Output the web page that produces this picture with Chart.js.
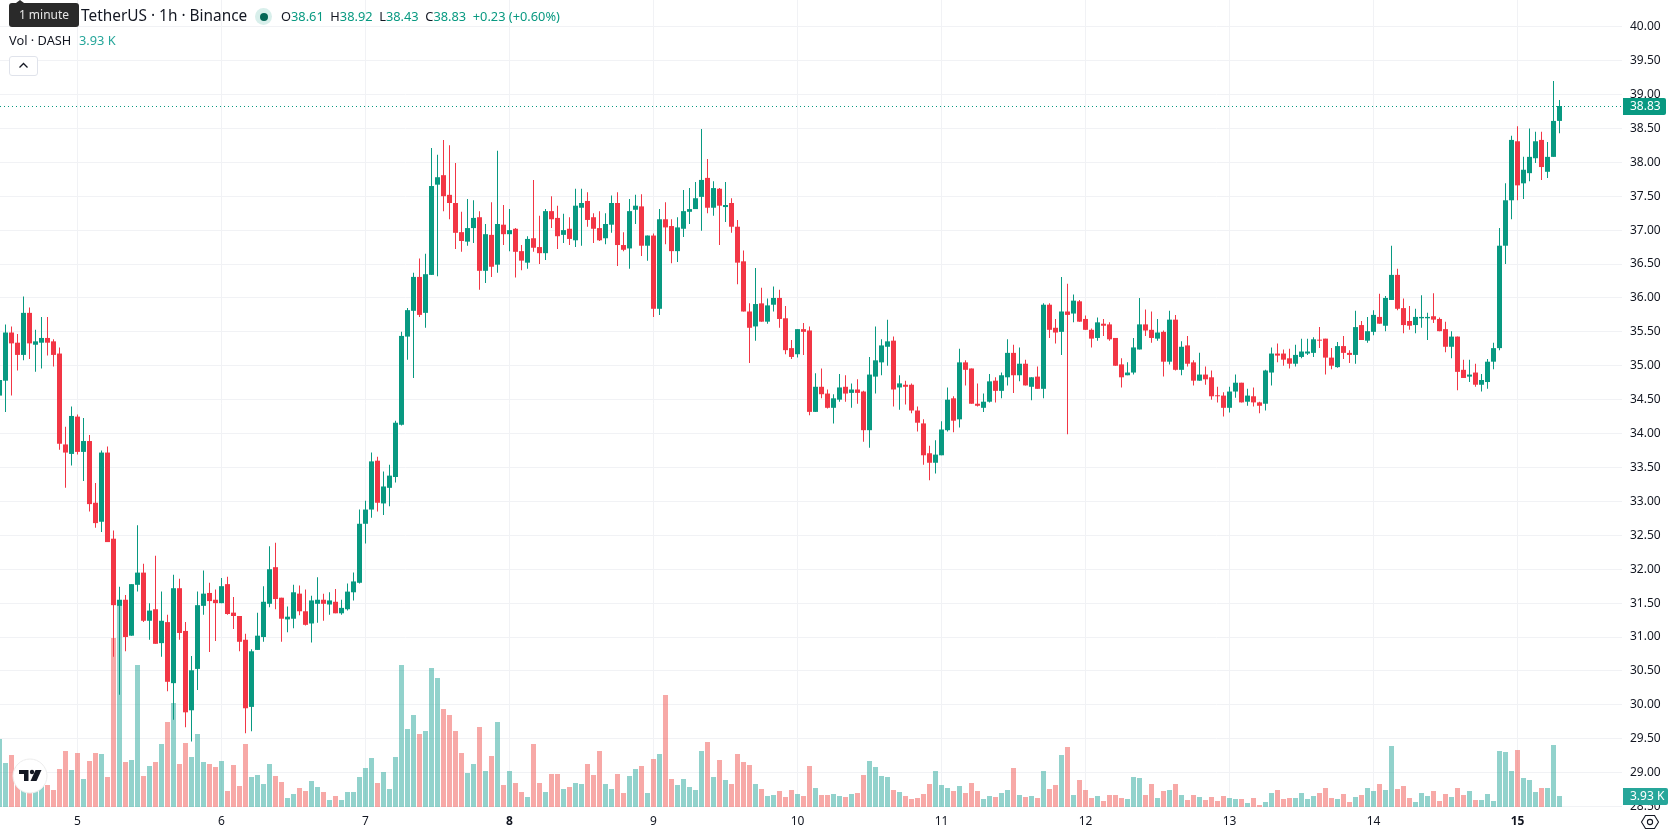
<!DOCTYPE html>
<html>
<head>
<meta charset="utf-8">
<title>DASH / TetherUS 1h</title>
<script src="https://cdn.jsdelivr.net/npm/chart.js@4/dist/chart.umd.min.js"></script>
<style>
  html, body { margin: 0; padding: 0; background: #fff; overflow: hidden; }
  #wrap { position: relative; width: 1678px; height: 835px; font-family: "Noto Sans", sans-serif; color: #131722; }
  #wrap canvas { position: absolute; left: 0; top: 0; }
  .txt { position: absolute; white-space: pre; line-height: 18px; }
  .up { color: #089981; }
  #tip { position: absolute; left: 9px; top: 3px; width: 70px; height: 24px; background: #2a2a2a; border-radius: 3px; color: #e6e6e6; font-size: 12px; line-height: 24px; text-align: center; }
  #tip:before { content: ""; position: absolute; left: 7px; top: -3px; border: 4px solid transparent; border-top: 0; border-bottom: 3px solid #2a2a2a; }
  #dot { position: absolute; left: 255px; top: 8px; width: 17px; height: 17px; border-radius: 50%; background: #d8efeb; }
  #dot:after { content: ""; position: absolute; left: 4.5px; top: 4.5px; width: 8px; height: 8px; border-radius: 50%; background: #056656; }
  #fold { position: absolute; left: 9px; top: 56px; width: 27px; height: 18px; border: 1px solid #e0e3eb; border-radius: 3px; background: #fff; }
  #logo { position: absolute; left: 12px; top: 758px; }
  #gear { position: absolute; left: 1640px; top: 812px; }
</style>
</head>
<body>
<div id="wrap">
  <canvas id="myChart" width="1678" height="835"></canvas>
  <div class="txt" style="left:81px;top:7px;font-size:15.4px">TetherUS · 1h · Binance</div>
  <div id="tip">1 minute</div>
  <div id="dot"></div>
  <div class="txt" style="left:281px;top:7px;font-size:12.8px">O<span class="up">38.61</span>  H<span class="up">38.92</span>  L<span class="up">38.43</span>  C<span class="up">38.83</span>  <span class="up">+0.23 (+0.60%)</span></div>
  <div class="txt" style="left:9px;top:31px;font-size:12.8px">Vol · DASH</div>
  <div class="txt" style="left:79px;top:31px;font-size:12.8px;color:#26a69a">3.93 K</div>
  <div id="fold"><svg width="27" height="18"><path d="M9.5 10.5 L13.5 6.5 L17.5 10.5" fill="none" stroke="#131722" stroke-width="1.3"/></svg></div>
  <svg id="logo" width="36" height="36">
    <circle cx="18" cy="18" r="17" fill="#fff" stroke="#ececec" stroke-width="1"/>
    <path d="M7 12 H16.5 V23 H12 V16 H7 Z" fill="#131722"/>
    <circle cx="20" cy="14" r="2.2" fill="#131722"/>
    <path d="M23.5 12 H29.5 L24.5 23 H18.5 Z" fill="#131722"/>
  </svg>
  <svg id="gear" width="20" height="20">
    <path d="M5.5 3.5 H14.5 L18.5 10 L14.5 16.5 H5.5 L1.5 10 Z" fill="none" stroke="#131722" stroke-width="1.1"/>
    <circle cx="10" cy="10" r="2.6" fill="none" stroke="#131722" stroke-width="1.1"/>
  </svg>
</div>
<script>
// hourly candles, one entry per hour from the left edge of the pane
const opens = [34.56,
  34.78,35.49,35.34,35.16,35.78,35.31,35.34,35.41,35.36,35.18,
  33.84,33.70,34.25,33.73,33.89,32.98,32.70,33.72,32.45,31.46,
  31.55,31.02,31.77,31.95,31.24,31.41,30.91,31.22,30.32,31.72,
  31.09,29.92,30.53,31.46,31.65,31.55,31.50,31.78,31.36,31.31,
  30.96,29.97,30.81,31.00,31.49,32.03,31.58,31.26,31.27,31.64,
  31.38,31.20,31.49,31.55,31.48,31.52,31.35,31.41,31.66,31.80,
  32.67,32.88,33.60,32.97,33.20,33.36,34.13,35.43,35.81,36.31,
  35.78,36.34,37.67,37.81,37.52,37.40,36.97,36.83,37.03,37.19,
  36.40,36.93,36.49,37.08,36.94,37.02,36.69,36.52,36.88,36.75,
  36.66,37.28,37.18,36.93,37.02,36.85,37.33,37.43,37.19,37.03,
  36.88,37.08,37.40,36.78,36.73,37.30,37.35,36.77,36.92,35.84,
  37.16,37.06,36.69,37.02,37.27,37.31,37.49,37.77,37.33,37.61,
  37.34,37.40,37.05,36.54,35.80,35.58,35.92,35.65,35.90,36.00,
  35.70,35.26,35.17,35.54,35.52,34.32,34.69,34.59,34.38,34.50,
  34.69,34.60,34.65,34.62,34.05,34.84,35.05,35.28,35.37,34.68,
  34.72,34.72,34.34,34.15,33.71,33.57,33.68,34.05,34.52,34.21,
  35.05,34.96,34.44,34.38,34.47,34.78,34.63,34.83,35.19,34.86,
  35.03,34.69,34.84,34.66,35.90,35.56,35.50,35.80,35.77,35.95,
  35.69,35.53,35.41,35.62,35.61,35.41,35.02,34.86,34.90,35.24,
  35.61,35.53,35.40,35.50,35.06,35.68,34.94,35.30,35.05,34.78,
  34.87,34.83,34.56,34.56,34.38,34.62,34.75,34.47,34.55,34.46,
  34.44,34.90,35.18,35.18,35.11,35.03,35.13,35.18,35.19,35.38,
  35.40,35.12,34.98,35.29,35.19,35.16,35.60,35.37,35.50,35.72,
  35.59,35.97,36.34,35.85,35.66,35.60,35.70,35.70,35.73,35.69,
  35.54,35.28,35.43,34.94,34.84,34.90,34.72,34.76,35.06,35.26,
  36.77,37.44,38.31,37.69,37.84,38.06,38.33,37.86,38.08,38.61];

const closes = [34.79,
  35.49,35.33,35.16,35.78,35.33,35.36,35.41,35.34,35.16,33.85,
  33.72,34.26,33.73,33.89,32.96,32.68,33.72,32.40,31.47,31.55,
  31.00,31.78,31.95,31.24,31.39,30.90,31.24,30.34,31.72,31.06,
  29.89,30.51,31.47,31.64,31.53,31.50,31.75,31.34,31.31,30.93,
  29.95,30.79,31.02,31.52,32.00,31.56,31.27,31.30,31.66,31.38,
  31.18,31.54,31.55,31.49,31.54,31.35,31.43,31.67,31.82,32.67,
  32.88,33.59,32.98,33.22,33.38,34.16,35.44,35.82,36.31,35.75,
  36.35,37.65,37.78,37.50,37.40,36.96,36.84,37.03,37.18,36.40,
  36.94,36.46,37.09,36.94,37.00,36.68,36.55,36.87,36.74,36.66,
  37.28,37.16,36.91,37.00,36.87,37.36,37.40,37.15,37.02,36.85,
  37.09,37.40,36.78,36.71,37.28,37.36,36.77,36.92,35.84,37.16,
  37.04,36.69,37.04,37.28,37.31,37.47,37.74,37.33,37.62,37.36,
  37.37,37.05,36.52,35.80,35.56,35.91,35.65,35.89,36.00,35.69,
  35.23,35.13,35.54,35.50,34.32,34.69,34.58,34.38,34.52,34.68,
  34.59,34.65,34.60,34.05,34.87,35.08,35.30,35.36,34.65,34.74,
  34.69,34.34,34.16,33.68,33.57,33.69,34.06,34.50,34.19,35.05,
  34.94,34.44,34.41,34.47,34.77,34.63,34.86,35.19,34.86,35.03,
  34.71,34.83,34.66,35.90,35.53,35.49,35.80,35.75,35.96,35.65,
  35.53,35.40,35.64,35.59,35.39,35.00,34.83,34.90,35.27,35.61,
  35.52,35.41,35.49,35.06,35.68,34.94,35.28,35.03,34.78,34.87,
  34.80,34.55,34.55,34.38,34.62,34.75,34.46,34.56,34.46,34.41,
  34.93,35.18,35.15,35.09,35.03,35.16,35.21,35.21,35.39,35.37,
  35.12,35.00,35.29,35.19,35.16,35.57,35.38,35.51,35.75,35.62,
  36.00,36.34,35.84,35.60,35.59,35.72,35.72,35.72,35.68,35.51,
  35.28,35.43,34.91,34.82,34.87,34.72,34.79,35.06,35.26,36.77,
  37.44,38.33,37.66,37.89,38.08,38.31,37.93,38.08,38.61,38.83];

const highs = [34.85,
  35.61,35.58,35.47,36.02,35.86,35.53,35.72,35.72,35.39,35.27,
  34.10,34.40,34.28,34.23,33.98,33.27,33.75,33.81,32.57,31.74,
  31.62,31.78,32.65,32.08,31.50,32.20,31.67,31.33,31.92,31.86,
  31.22,30.72,31.67,31.98,31.80,31.70,31.87,31.89,31.59,31.31,
  31.05,30.82,31.36,31.75,32.34,32.39,31.58,31.45,31.77,31.76,
  31.70,31.61,31.88,31.64,31.66,31.71,31.55,31.79,31.95,32.88,
  33.01,33.72,33.66,33.44,33.54,34.19,35.50,35.85,36.37,36.58,
  36.65,38.21,38.11,38.33,38.25,37.99,37.27,37.46,37.44,37.28,
  37.09,37.41,38.17,37.37,37.31,37.03,36.78,36.91,37.74,37.21,
  37.31,37.50,37.36,37.24,37.19,37.61,37.61,37.56,37.25,37.28,
  37.25,37.51,37.56,36.97,37.46,37.52,37.53,36.92,36.95,37.31,
  37.41,37.16,37.19,37.59,37.62,37.71,38.49,38.05,37.72,37.62,
  37.71,37.47,37.15,36.70,35.92,36.44,36.15,35.99,36.17,36.12,
  35.88,35.38,35.54,35.63,35.58,34.89,34.96,34.65,34.58,34.88,
  34.86,34.74,34.80,34.63,35.13,35.58,35.39,35.68,35.43,34.86,
  34.78,34.74,34.40,34.21,33.82,33.90,34.18,34.68,34.55,35.25,
  35.08,34.96,34.74,34.59,34.88,34.83,34.90,35.39,35.31,35.27,
  35.09,34.83,34.99,35.92,35.92,35.69,36.31,36.21,36.05,35.97,
  35.74,35.55,35.71,35.69,35.64,35.41,35.11,35.05,35.41,36.00,
  35.83,35.80,35.69,35.52,35.81,35.75,35.36,35.44,35.08,35.19,
  34.99,34.93,34.69,34.61,34.69,34.87,34.75,34.66,34.68,34.47,
  34.94,35.27,35.33,35.24,35.25,35.31,35.40,35.40,35.42,35.57,
  35.40,35.26,35.35,35.44,35.23,35.81,35.66,35.72,35.82,36.06,
  36.03,36.77,36.43,35.99,35.88,35.84,36.04,35.78,36.07,35.71,
  35.65,35.51,35.43,35.09,35.09,35.03,34.88,35.10,35.34,37.03,
  37.69,38.39,38.53,38.08,38.50,38.45,38.45,38.30,39.20,38.92];

const lows = [34.31,
  34.32,34.56,34.93,35.08,35.10,34.91,34.96,35.15,34.99,33.76,
  33.20,33.53,33.69,33.30,32.85,32.61,32.55,32.40,30.71,30.15,
  30.79,31.02,31.67,31.22,30.96,30.90,30.71,30.20,29.78,30.96,
  29.67,29.46,30.22,31.33,30.78,30.94,31.50,31.33,31.12,30.79,
  29.58,29.61,30.81,30.93,31.44,31.41,30.93,31.07,31.13,31.32,
  31.17,30.92,31.21,31.24,31.33,31.35,31.33,31.39,31.54,31.79,
  32.38,32.76,32.85,32.80,32.93,33.28,34.12,35.09,34.82,35.72,
  35.56,36.34,36.32,37.28,37.16,36.72,36.68,36.77,36.81,36.12,
  36.22,36.31,36.37,36.78,36.69,36.30,36.41,36.43,36.68,36.50,
  36.56,37.03,36.72,36.81,36.78,36.75,36.77,37.05,36.81,36.84,
  36.79,36.96,36.47,36.69,36.43,37.09,36.62,36.55,35.72,35.75,
  36.79,36.51,36.53,36.90,37.09,37.31,36.99,37.25,37.21,36.78,
  37.12,36.96,36.20,35.80,35.04,35.37,35.65,35.62,35.80,35.56,
  35.17,35.10,35.12,35.16,34.27,34.32,34.52,34.37,34.15,34.47,
  34.47,34.38,34.44,33.88,33.79,34.59,34.86,35.00,34.40,34.35,
  34.43,34.30,34.03,33.54,33.31,33.41,33.68,34.03,34.02,34.09,
  34.71,34.44,34.40,34.32,34.46,34.46,34.52,34.71,34.60,34.77,
  34.71,34.49,34.66,34.52,35.41,35.33,35.16,33.99,35.64,35.65,
  35.53,35.27,35.37,35.44,35.37,35.00,34.68,34.86,34.87,35.24,
  35.44,35.34,35.37,34.84,35.02,34.93,34.86,34.99,34.71,34.78,
  34.72,34.50,34.46,34.25,34.31,34.53,34.46,34.41,34.40,34.30,
  34.34,34.71,35.05,35.00,34.96,34.99,35.11,35.16,35.13,35.26,
  34.87,34.95,34.97,35.10,35.04,35.03,35.38,35.34,35.45,35.62,
  35.51,35.97,35.82,35.48,35.53,35.48,35.56,35.38,35.63,35.51,
  35.20,35.11,34.64,34.82,34.76,34.69,34.62,34.66,34.95,35.23,
  36.50,37.16,37.44,37.46,37.72,37.99,37.74,37.77,38.08,38.43];

// volume in thousands
const volumes = [24.28,
  15.71,18.56,14.28,8.33,10.71,8.33,9.52,7.85,6.07,13.57,
  19.99,13.21,19.28,10.00,16.42,19.28,18.92,10.71,60.33,72.11,
  16.07,16.78,50.69,11.07,14.64,16.07,22.49,30.35,37.13,15.35,
  22.85,17.85,26.06,16.07,15.35,14.28,16.42,5.71,14.99,7.50,
  22.49,10.71,11.42,8.21,15.35,11.07,8.93,3.21,4.64,6.78,
  5.71,9.28,7.14,5.36,2.50,3.93,2.50,5.36,5.36,10.71,
  13.92,17.49,8.57,12.50,6.43,17.85,50.69,27.85,32.84,26.06,
  27.13,49.62,46.05,34.99,32.84,27.13,19.28,12.14,15.35,28.56,
  12.85,18.21,30.35,7.85,12.85,8.57,5.36,3.57,22.49,8.57,
  5.36,11.78,11.78,6.43,7.14,8.57,8.21,15.35,11.42,19.99,
  8.21,6.43,11.78,5.00,11.07,13.57,14.64,5.00,17.14,18.92,
  39.98,10.00,7.85,10.00,7.14,6.07,19.99,23.21,10.71,16.78,
  9.64,8.21,18.92,16.07,14.99,8.21,6.43,3.93,4.28,5.71,
  3.57,6.07,4.64,3.93,14.64,6.78,4.28,4.28,4.64,3.93,
  3.57,4.64,5.00,11.42,16.42,14.28,11.07,10.71,6.07,5.36,
  3.93,2.86,3.21,4.64,8.21,12.85,7.85,6.78,5.71,7.50,
  5.00,8.57,5.71,2.86,3.93,3.57,5.00,6.07,13.92,4.28,
  3.57,3.93,3.21,12.85,6.43,7.85,18.56,21.42,4.28,9.64,
  6.07,3.21,3.93,2.14,4.28,4.28,3.21,2.86,10.71,10.35,
  4.28,8.21,3.21,5.71,6.07,8.21,4.28,2.50,4.28,3.57,
  2.50,3.57,2.14,3.93,3.21,2.86,2.86,1.43,3.21,0.71,
  1.79,5.00,6.07,2.86,3.21,3.21,5.00,2.86,3.93,5.00,
  6.78,3.21,2.86,4.64,1.79,3.57,4.28,6.78,5.71,8.21,
  6.07,21.78,6.43,7.50,3.21,1.79,5.00,3.93,5.71,2.14,
  4.64,3.57,6.78,4.28,5.71,2.50,2.50,4.64,2.14,19.99,
  19.64,12.85,20.35,10.35,9.64,5.36,6.78,6.78,22.13,3.93];

const dayLabels = ['5','6','7','8','9','10','11','12','13','14','15'];
const dayTicks = [13,37,61,85,109,133,157,181,205,229,253];
const boldDays = ['8','15'];
const priceTicks = [28.5,29,29.5,30,30.5,31,31.5,32,32.5,33,33.5,34,34.5,35,35.5,36,36.5,37,37.5,38,38.5,39,39.5,40];

const upColor = '#089981';
const downColor = '#F23645';
const upVol = 'rgba(38,166,154,0.5)';
const downVol = 'rgba(239,83,80,0.5)';
const gridColor = '#f1f2f5';

const isUp = opens.map((o, i) => closes[i] >= o);
const candleColors = isUp.map(u => u ? upColor : downColor);
const lastClose = closes[closes.length - 1];
const lastVolume = volumes[volumes.length - 1];

// price tag and dotted last price line, volume tag
const lastPricePlugin = {
  id: 'lastPrice',
  afterDraw(chart) {
    const c = chart.ctx, area = chart.chartArea;
    const y = Math.round(chart.scales.y.getPixelForValue(lastClose)) + 0.5;
    const yVol = chart.scales.yVol.getPixelForValue(lastVolume);
    c.save();
    c.strokeStyle = upColor;
    c.lineWidth = 1;
    c.setLineDash([1, 3]);
    c.beginPath();
    c.moveTo(area.left, y);
    c.lineTo(area.right, y);
    c.stroke();
    c.setLineDash([]);
    c.font = '12px "Noto Sans"';
    c.textBaseline = 'middle';
    c.fillStyle = upColor;
    c.beginPath();
    c.roundRect(area.right + 1, y - 8.5, 43, 17, [0, 2, 2, 0]);
    c.fill();
    c.fillStyle = '#fff';
    c.fillText(lastClose.toFixed(2), area.right + 8, y + 0.5);
    c.fillStyle = '#26a69a';
    c.beginPath();
    c.roundRect(area.right + 1, yVol - 8, 45, 17, [0, 2, 2, 0]);
    c.fill();
    c.fillStyle = '#fff';
    c.fillText(lastVolume.toFixed(2) + ' K', area.right + 8, yVol + 1);
    c.restore();
  }
};

Chart.defaults.font.family = '"Noto Sans", sans-serif';
Chart.defaults.font.size = 12;
Chart.defaults.color = '#131722';

var ctx = document.getElementById('myChart').getContext('2d');
var myChart = new Chart(ctx, {
  type: 'bar',
  plugins: [lastPricePlugin],
  data: {
    datasets: [
      {
        label: 'Body',
        order: 1,
        yAxisID: 'y',
        grouped: false,
        barThickness: 5,
        minBarLength: 1,
        inflateAmount: 0,
        borderWidth: 0,
        backgroundColor: candleColors,
        data: opens.map((o, i) => ({ x: i, y: [o, closes[i]] }))
      },
      {
        label: 'Wick',
        order: 2,
        yAxisID: 'y',
        grouped: false,
        barThickness: 1,
        inflateAmount: 0,
        borderWidth: 0,
        backgroundColor: candleColors,
        data: lows.map((l, i) => ({ x: i, y: [l, highs[i]] }))
      },
      {
        label: 'Volume',
        order: 3,
        yAxisID: 'yVol',
        grouped: false,
        barThickness: 5,
        inflateAmount: 0,
        borderWidth: 0,
        backgroundColor: isUp.map(u => u ? upVol : downVol),
        data: volumes.map((v, i) => ({ x: i, y: v }))
      }
    ]
  },
  options: {
    responsive: false,
    animation: false,
    layout: { padding: 0 },
    plugins: { legend: { display: false }, tooltip: { enabled: false } },
    scales: {
      x: {
        type: 'linear',
        offset: false,
        min: 0.0833,
        max: 270.4167,
        afterFit: s => { s.height = 28; s.paddingLeft = 0; s.paddingRight = 0; },
        afterBuildTicks: s => { s.ticks = dayTicks.map(v => ({ value: v })); },
        border: { display: false },
        grid: { color: gridColor, drawTicks: false, offset: false },
        ticks: {
          autoSkip: false,
          maxRotation: 0,
          padding: 7,
          includeBounds: false,
          callback: v => dayLabels[dayTicks.indexOf(v)],
          font: c => ({ size: 12, weight: boldDays.includes(dayLabels[c.index]) ? 'bold' : 'normal' })
        }
      },
      y: {
        position: 'right',
        min: 28.494,
        max: 40.393,
        afterFit: s => { s.width = 56; s.paddingTop = 0; s.paddingBottom = 0; },
        afterBuildTicks: s => { s.ticks = priceTicks.map(v => ({ value: v })); },
        border: { display: false },
        grid: { color: gridColor, drawTicks: false },
        ticks: {
          padding: 8,
          autoSkip: false,
          includeBounds: false,
          callback: v => v.toFixed(2)
        }
      },
      yVol: {
        display: false,
        min: 0,
        max: 288.1
      }
    }
  }
});
</script>
</body>
</html>
